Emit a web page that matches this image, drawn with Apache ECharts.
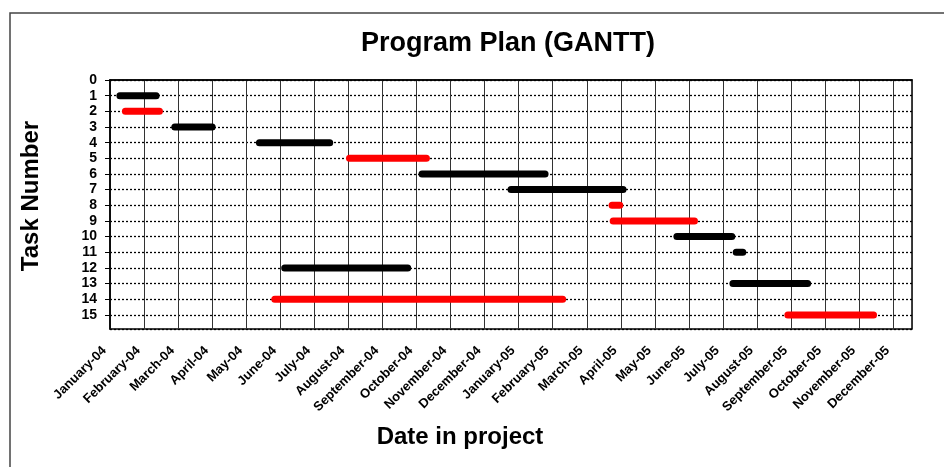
<!DOCTYPE html>
<html lang="en">
<head>
    <meta charset="UTF-8">
    <title>Program Plan (GANTT)</title>
    <script src="https://cdn.jsdelivr.net/npm/echarts@6/dist/echarts.min.js"></script>
    <style>
        html,body{
            height:100%;
            width:100%;
            margin:0;
            padding:0;
            background:#fff;
        }
    </style>
</head>
<body>
    <div id="main" style="width:944px;height:467px"></div>
    <script>
        // x values are days counted from 1 January 2004, axis steps every 31 days
        var monthLabels = ['January-04','February-04','March-04','April-04','May-04','June-04',
            'July-04','August-04','September-04','October-04','November-04','December-04',
            'January-05','February-05','March-05','April-05','May-05','June-05',
            'July-05','August-05','September-05','October-05','November-05','December-05'];
        var taskIds   = [1, 2, 3, 4, 5, 6, 7, 8, 9, 10, 11, 12, 13, 14, 15];
        var taskStart = [9, 14, 59, 136, 218, 284, 365, 457, 458, 516, 570, 159, 567, 150, 617];
        var taskEnd   = [42, 45, 93, 200, 288, 396, 467, 464, 532, 566, 576, 271, 635, 412, 695];
        var taskRed   = [false, true, false, false, true, false, false, true, true, false, false, false, false, true, true];

        var myChart = echarts.init(document.getElementById('main'));
        var font = 'Arial, "Liberation Sans", sans-serif';

        var series = taskIds.map(function (id, i) {
            return {
                name: 'Task ' + id,
                type: 'line',
                symbol: 'none',
                silent: true,
                animation: false,
                data: [[taskStart[i], id], [taskEnd[i], id]],
                lineStyle: {
                    width: 7,
                    cap: 'round',
                    color: taskRed[i] ? '#ff0000' : '#000000'
                }
            };
        });

        var option = {
            backgroundColor: '#fff',
            title: {
                text: 'Program Plan (GANTT)',
                left: 503,
                textAlign: 'center',
                top: 25,
                textStyle: { fontFamily: font, fontSize: 27, fontWeight: 'bold', color: '#000' }
            },
            graphic: [{
                type: 'rect',
                shape: { x: 10, y: 13, width: 1000, height: 600 },
                style: { fill: 'none', stroke: '#444', lineWidth: 1.5 },
                silent: true
            }, {
                type: 'text',
                x: 460,
                y: 437,
                style: {
                    text: 'Date in project',
                    fontFamily: font, fontSize: 24, fontWeight: 'bold', fill: '#000',
                    align: 'center', verticalAlign: 'middle'
                }
            }, {
                type: 'text',
                x: 31,
                y: 196,
                rotation: Math.PI / 2,
                style: {
                    text: 'Task Number',
                    fontFamily: font, fontSize: 24, fontWeight: 'bold', fill: '#000',
                    align: 'center', verticalAlign: 'middle'
                }
            }],
            grid: {
                left: 110,
                right: 32,
                top: 80,
                bottom: 138,
                show: true,
                borderColor: '#000',
                borderWidth: 1.5
            },
            xAxis: {
                type: 'value',
                min: 0,
                max: 730,
                interval: 31,
                axisLine: { show: true, lineStyle: { color: '#000', width: 1.5 } },
                axisTick: { show: false },
                axisLabel: {
                    rotate: 45,
                    margin: 14,
                    padding: [0, 8, 0, 0],
                    showMaxLabel: false,
                    fontFamily: font,
                    fontSize: 13,
                    fontWeight: 'bold',
                    color: '#000',
                    formatter: function (v) {
                        return monthLabels[Math.round(v / 31)] || '';
                    }
                },
                splitLine: { show: true, lineStyle: { color: '#333', width: 1, type: 'solid' } }
            },
            yAxis: {
                type: 'value',
                inverse: true,
                min: 0,
                max: 15.9,
                interval: 1,
                axisLine: { show: true, lineStyle: { color: '#000', width: 1.5 } },
                axisTick: { show: true, length: 5, lineStyle: { color: '#000' } },
                axisLabel: {
                    showMaxLabel: false,
                    margin: 13,
                    fontFamily: font,
                    fontSize: 14,
                    fontWeight: 'bold',
                    color: '#000'
                },
                splitLine: { show: true, lineStyle: { color: '#000', width: 1.3, type: [2, 2] } }
            },
            series: series
        };

        myChart.setOption(option);
    </script>
</body>
</html>
